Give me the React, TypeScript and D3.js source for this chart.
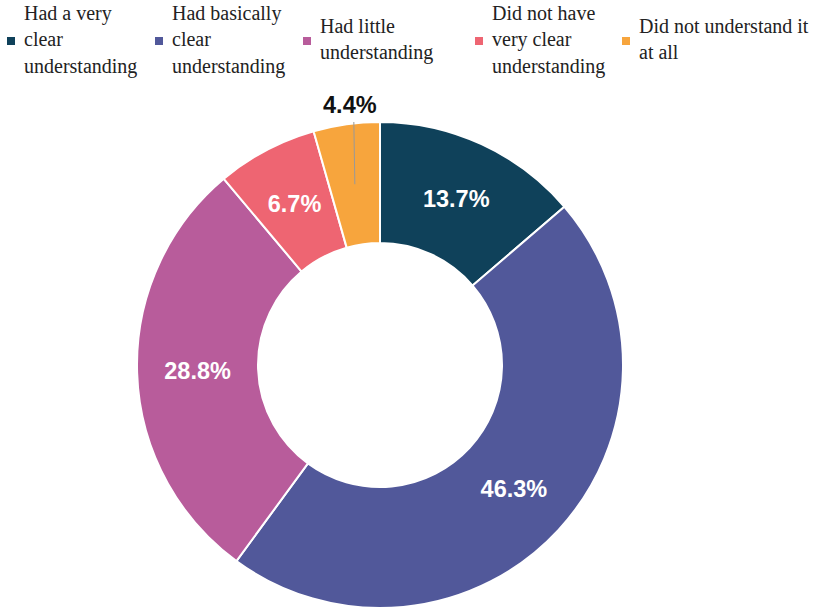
import React from "react";
import * as d3 from "d3";

const categories = [
  "Had a very clear understanding",
  "Had basically clear understanding",
  "Had little understanding",
  "Did not have very clear understanding",
  "Did not understand it at all",
];
const values = [13.7, 46.3, 28.8, 6.7, 4.4];
const labels = ["13.7%", "46.3%", "28.8%", "6.7%", "4.4%"];
const colors = ["#0f415a", "#51589a", "#b85c9b", "#ee6572", "#f7a53d"];
const legendLines = [
  ["Had a very", "clear", "understanding"],
  ["Had basically", "clear", "understanding"],
  ["Had little", "understanding"],
  ["Did not have", "very clear", "understanding"],
  ["Did not understand it", "at all"],
];

const legendX = [7, 155, 303, 475, 622];

export default function App() {
  const W = 814, H = 611;
  const cx = 380, cy = 365, R = 243, r = 122;
  const pie = d3.pie<number>().sort(null).value((d) => d);
  const arcs = pie(values);
  const arc = d3.arc<d3.PieArcDatum<number>>().innerRadius(r).outerRadius(R);
  const lineH = 26.5;
  const legendCenter = 40;
  return (
    <svg width={W} height={H} style={{ position: "absolute", left: 0, top: 0 }}>
      <rect width={W} height={H} fill="#fff" />
      {categories.map((c, i) => {
        const lines = legendLines[i];
        const n = lines.length;
        const startY = legendCenter - ((n - 1) * lineH) / 2;
        return (
          <g key={c}>
            <rect x={legendX[i]} y={37} width={8} height={8} fill={colors[i]} />
            <text
              fontFamily="'Liberation Serif', 'Times New Roman', serif"
              fontSize={20}
              fill="#222"
            >
              {lines.map((l, j) => (
                <tspan key={j} x={legendX[i] + 17} y={startY + j * lineH + 6}>
                  {l}
                </tspan>
              ))}
            </text>
          </g>
        );
      })}
      <g transform={`translate(${cx},${cy})`}>
        {arcs.map((a, i) => (
          <path key={i} d={arc(a) || ""} fill={colors[i]} stroke="#fff" strokeWidth={2} />
        ))}
        {arcs.map((a, i) => {
          const [x, y] = arc.centroid(a);
          if (i === 4) {
            return (
              <g key={i}>
                <line x1={x} y1={y} x2={x - 1} y2={-243} stroke="#999" strokeWidth={1} />
                <text
                  x={x - 5}
                  y={-252}
                  textAnchor="middle"
                  fontFamily="'Liberation Sans', Arial, sans-serif"
                  fontWeight="bold"
                  fontSize={23.5}
                  fill="#111"
                >
                  {labels[i]}
                </text>
              </g>
            );
          }
          return (
            <text
              key={i}
              x={x}
              y={y}
              dy="0.35em"
              textAnchor="middle"
              fontFamily="'Liberation Sans', Arial, sans-serif"
              fontWeight="bold"
              fontSize={23.5}
              fill="#fff"
            >
              {labels[i]}
            </text>
          );
        })}
      </g>
    </svg>
  );
}
